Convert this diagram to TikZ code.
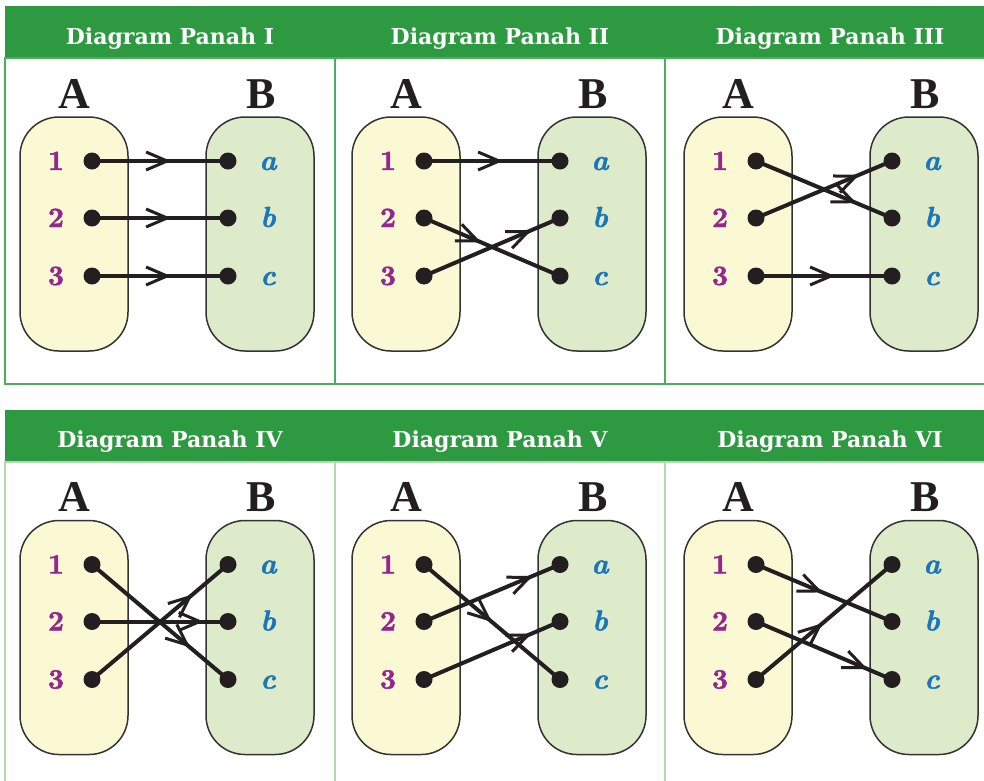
\documentclass[tikz,border=0pt]{standalone}
\usepackage{fontspec}
\newfontfamily\headfont{DejaVu Serif}
\newfontfamily\setnamefont{Liberation Serif}
\newfontfamily\numfont[FakeBold=1.6]{lmroman10-bold.otf}
\newfontfamily\letfont[FakeBold=1.6]{lmroman10-bolditalic.otf}
\usetikzlibrary{arrows.meta,decorations.markings}
\definecolor{hdrgreen}{HTML}{2D9A41}
\definecolor{topline}{HTML}{4CAD5B}
\definecolor{botline}{HTML}{B5D8B0}
\definecolor{yelfill}{HTML}{FBF9D4}
\definecolor{grnfill}{HTML}{DDEBCB}
\definecolor{boxline}{HTML}{333333}
\definecolor{numcol}{HTML}{93278F}
\definecolor{letcol}{HTML}{1B75BB}
\definecolor{inkblack}{HTML}{231F20}
\tikzset{
  hdrtext/.style={anchor=base, text=white, font=\headfont\bfseries\fontsize{22}{26}\selectfont, inner sep=0pt},
  setname/.style={anchor=base, text=inkblack, font=\setnamefont\bfseries\fontsize{44}{50}\selectfont, inner sep=0pt},
  setboxA/.style={draw=boxline, line width=1.5pt, fill=yelfill, rounded corners=39pt, minimum width=108pt, minimum height=234pt, inner sep=0pt},
  setboxB/.style={setboxA, fill=grnfill},
  numlab/.style={anchor=base, text=numcol, font=\numfont\fontsize{28}{32}\selectfont, inner sep=0pt},
  letlab/.style={anchor=base, text=letcol, font=\letfont\fontsize{29}{33}\selectfont, inner sep=0pt},
  dotfill/.style={fill=inkblack},
  conn/.style={draw=inkblack, line width=4pt, postaction={decorate},
    decoration={markings, mark=at position #1 with {\arrow{Straight Barb[length=21pt,width=18pt,line width=3pt]}}}},
}
\newcommand\arrowpanel[4]{%
  \begin{scope}[shift={(#2,#3)}]
    \node[setname] (#1A) at (74,108) {A};
    \node[setname] (#1B) at (261,108) {B};
    \node[setboxA] (#1boxA) at (74,234) {};
    \node[setboxB] (#1boxB) at (260,234) {};
    \coordinate (#1p1) at (92,161);
    \coordinate (#1p2) at (92,218);
    \coordinate (#1p3) at (92,276);
    \coordinate (#1qa) at (228,161);
    \coordinate (#1qb) at (228,218);
    \coordinate (#1qc) at (228,276);
    \node[numlab] (#1n1) at (56,170) {1};
    \node[numlab] (#1n2) at (56,227) {2};
    \node[numlab] (#1n3) at (56,285) {3};
    \node[letlab] (#1la) at (268,170) {a};
    \node[letlab] (#1lb) at (268,227) {b};
    \node[letlab] (#1lc) at (268,285) {c};
  \end{scope}
  #4
  \foreach \d in {p1,p2,p3,qa,qb,qc} {\fill[dotfill] (#1\d) circle[radius=8.5pt];}
}
\begin{document}
\begin{tikzpicture}[x=1pt,y=-1pt]
\useasboundingbox (0,0) rectangle (984,780);
\clip (0,0) rectangle (984,780);
\fill[white] (0,0) rectangle (984,780);
% top row frame
\fill[hdrgreen] (5,6) rectangle (1000,58);
\draw[topline, line width=1.2pt] (5,58) rectangle (1000,384);
\draw[topline, line width=1.2pt] (335,58) -- (335,384);
\draw[topline, line width=1.2pt] (665,58) -- (665,384);
% bottom row frame
\fill[hdrgreen] (5,409.5) rectangle (1000,462);
\draw[botline, line width=1.2pt] (5,462) rectangle (1000,800);
\draw[botline, line width=1.2pt] (335,462) -- (335,800);
\draw[botline, line width=1.2pt] (665,462) -- (665,800);
% titles
\node[hdrtext] (t1) at (170,44) {Diagram Panah I};
\node[hdrtext] (t2) at (500,44) {Diagram Panah II};
\node[hdrtext] (t3) at (830,44) {Diagram Panah III};
\node[hdrtext] (t4) at (170,447.5) {Diagram Panah IV};
\node[hdrtext] (t5) at (500,447.5) {Diagram Panah V};
\node[hdrtext] (t6) at (830,447.5) {Diagram Panah VI};
% panels
\arrowpanel{I}{0}{0}{%
  \draw[conn=0.58] (Ip1) -- (Iqa);
  \draw[conn=0.58] (Ip2) -- (Iqb);
  \draw[conn=0.58] (Ip3) -- (Iqc);}
\arrowpanel{II}{332}{0}{%
  \draw[conn=0.58] (IIp1) -- (IIqa);
  \draw[conn=0.42] (IIp2) -- (IIqc);
  \draw[conn=0.79] (IIp3) -- (IIqb);}
\arrowpanel{III}{664}{0}{%
  \draw[conn=0.74] (IIIp1) -- (IIIqb);
  \draw[conn=0.76] (IIIp2) -- (IIIqa);
  \draw[conn=0.58] (IIIp3) -- (IIIqc);}
\arrowpanel{IV}{0}{403.5}{%
  \draw[conn=0.72] (IVp1) -- (IVqc);
  \draw[conn=0.82] (IVp2) -- (IVqb);
  \draw[conn=0.74] (IVp3) -- (IVqa);}
\arrowpanel{V}{332}{403.5}{%
  \draw[conn=0.50] (Vp1) -- (Vqc);
  \draw[conn=0.80] (Vp2) -- (Vqa);
  \draw[conn=0.79] (Vp3) -- (Vqb);}
\arrowpanel{VI}{664}{403.5}{%
  \draw[conn=0.49] (VIp1) -- (VIqb);
  \draw[conn=0.82] (VIp2) -- (VIqc);
  \draw[conn=0.49] (VIp3) -- (VIqa);}
\end{tikzpicture}
\end{document}
